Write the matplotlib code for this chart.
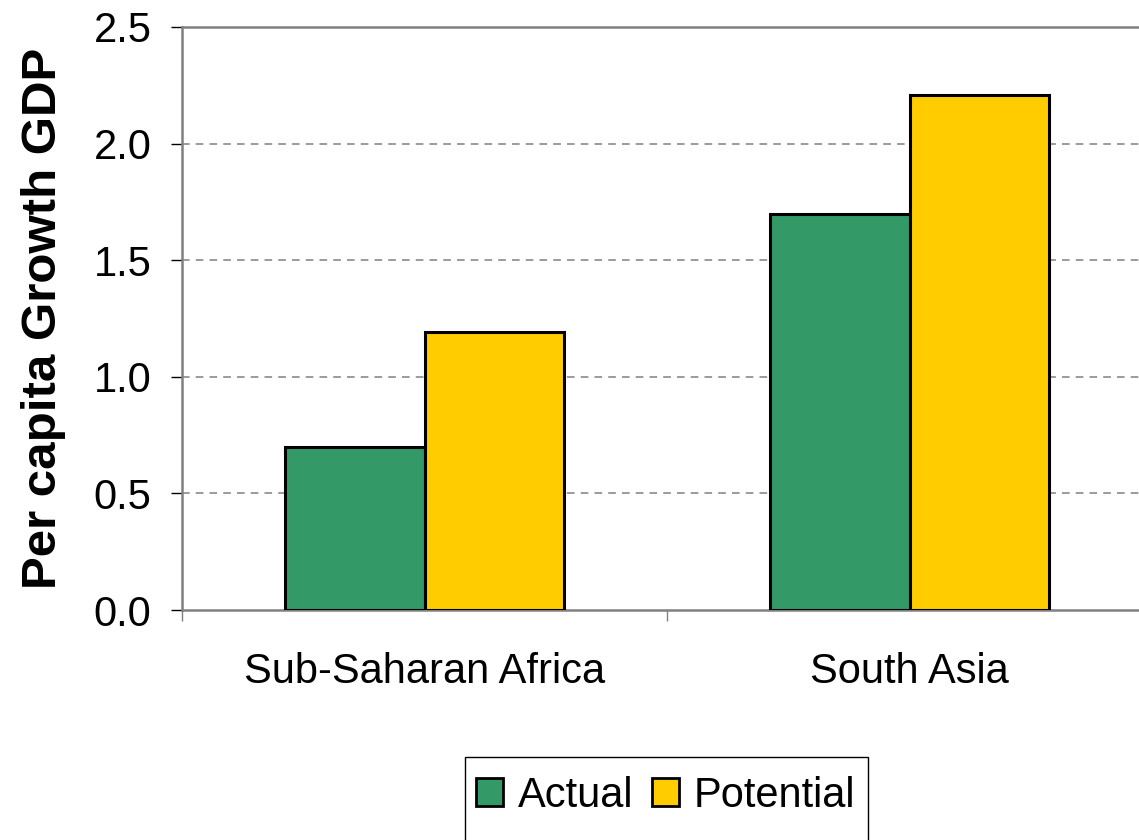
import matplotlib
matplotlib.use('Agg')
import matplotlib.pyplot as plt
from matplotlib.patches import Rectangle, Patch
import numpy as np

# ── data ──
regions   = ['Sub-Saharan Africa', 'South Asia']
actual    = [0.70, 1.70]
potential = [1.19, 2.21]
yticks    = [0.0, 0.5, 1.0, 1.5, 2.0, 2.5]

GREEN  = '#339966'
YELLOW = '#FFCC00'
GREY   = '#808080'

plt.rcParams['font.family'] = ['Liberation Sans', 'DejaVu Sans']

fig = plt.figure(figsize=(11.39, 8.40), dpi=100, facecolor='white')
ax = fig.add_axes([182/1139, 230/840, 970/1139, 583/840])

x = np.arange(len(regions))
w = 0.288
ax.bar(x - w/2, actual, w, color=GREEN, edgecolor='black', linewidth=2.2, zorder=3)
ax.bar(x + w/2, potential, w, color=YELLOW, edgecolor='black', linewidth=2.2, zorder=3)

ax.set_xlim(-0.5, len(regions) - 0.5)
ax.set_ylim(0, 2.5)

# y axis
ax.set_yticks(yticks)
ax.set_yticklabels([f'{v:.1f}' for v in yticks])
ax.tick_params(axis='y', direction='out', length=8, width=1, color='black',
               labelsize=30, pad=14)
for v in yticks[1:-1]:
    ax.axhline(v, color=GREY, linestyle=(0, (5, 4)), linewidth=1.1, zorder=1)

# x axis: labels at group centres, ticks at group boundaries
ax.set_xticks(x)
ax.set_xticklabels(regions)
ax.tick_params(axis='x', which='major', length=0, labelsize=30, pad=30)
ax.set_xticks(np.arange(-0.5, len(regions)), minor=True)
ax.tick_params(axis='x', which='minor', direction='out', length=8, width=1, color=GREY)

for side in ['left', 'top', 'bottom']:
    ax.spines[side].set_color(GREY)
    ax.spines[side].set_linewidth(1.8)
ax.spines['right'].set_visible(False)

ax.set_ylabel('Per capita Growth GDP', fontsize=35.5, fontweight='bold', labelpad=20)

# legend with a box running off the bottom edge
handles = [Patch(facecolor=GREEN, edgecolor='black', linewidth=2.0, label='Actual'),
           Patch(facecolor=YELLOW, edgecolor='black', linewidth=2.0, label='Potential')]
fig.legend(handles=handles, loc='upper left', bbox_to_anchor=(476/1139, 1 - 776/840),
           ncol=2, frameon=False, fontsize=30, handlelength=0.65, handleheight=0.65,
           handletextpad=0.35, columnspacing=0.45, borderpad=0, borderaxespad=0)
fig.patches.append(Rectangle((465/1139, -0.02), 403/1139, 0.02 + 83/840,
                             transform=fig.transFigure, facecolor='none',
                             edgecolor='black', linewidth=1.0))

fig.savefig('out.png', dpi=100, facecolor='white')
